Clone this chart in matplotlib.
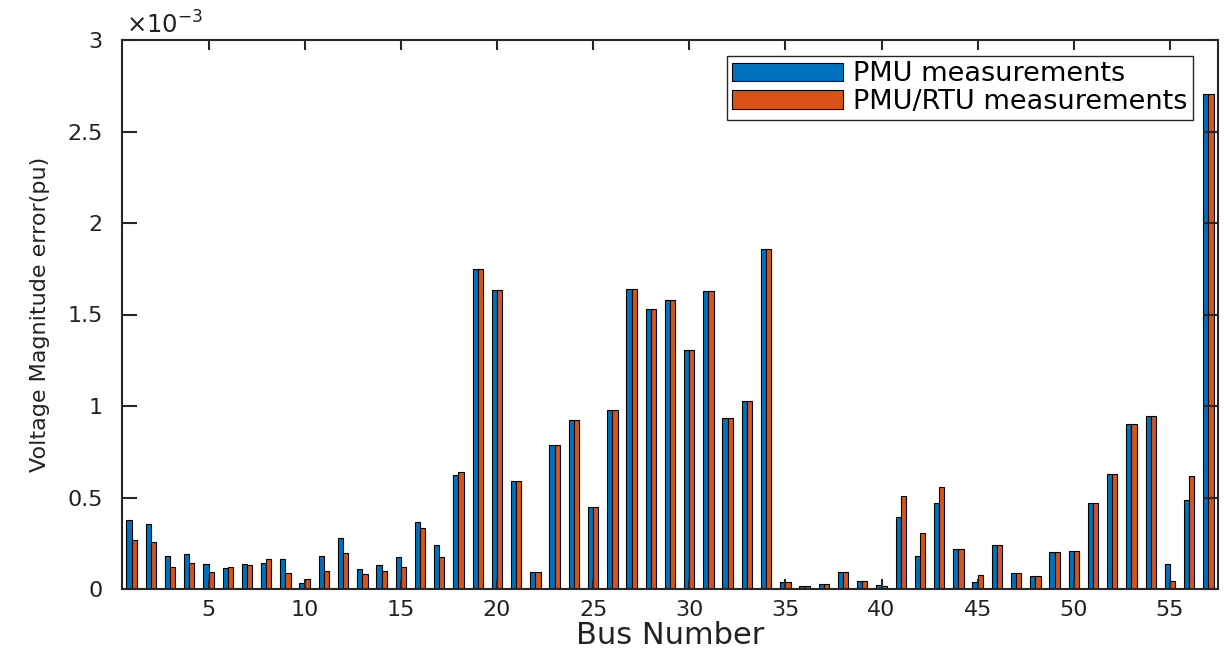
import numpy as np
import matplotlib
matplotlib.use("Agg")
import matplotlib.pyplot as plt
from matplotlib.ticker import FuncFormatter

# Data (values in units of 1e-3 pu)
buses = list(range(1, 58))
pmu = [0.375, 0.355, 0.180, 0.193, 0.135, 0.117, 0.135, 0.142, 0.164, 0.035,
       0.180, 0.278, 0.111, 0.133, 0.175, 0.368, 0.238, 0.624, 1.748, 1.635,
       0.589, 0.091, 0.788, 0.926, 0.446, 0.980, 1.639, 1.531, 1.577, 1.308,
       1.631, 0.933, 1.028, 1.860, 0.040, 0.015, 0.029, 0.091, 0.044, 0.020,
       0.393, 0.182, 0.468, 0.220, 0.036, 0.242, 0.086, 0.073, 0.200, 0.206,
       0.469, 0.627, 0.902, 0.944, 0.135, 0.484, 2.704]
pmu_rtu = [0.270, 0.259, 0.118, 0.142, 0.093, 0.122, 0.133, 0.166, 0.089, 0.057,
           0.098, 0.196, 0.080, 0.097, 0.122, 0.331, 0.175, 0.642, 1.748, 1.635,
           0.589, 0.091, 0.788, 0.926, 0.446, 0.980, 1.639, 1.531, 1.577, 1.308,
           1.631, 0.933, 1.028, 1.860, 0.040, 0.015, 0.029, 0.091, 0.044, 0.018,
           0.507, 0.308, 0.560, 0.220, 0.076, 0.242, 0.086, 0.073, 0.200, 0.206,
           0.469, 0.627, 0.902, 0.944, 0.046, 0.615, 2.704]
series_labels = ["PMU measurements", "PMU/RTU measurements"]
xticks = [5, 10, 15, 20, 25, 30, 35, 40, 45, 50, 55]
yticks = [0, 0.5, 1, 1.5, 2, 2.5, 3]

blue = "#0072BD"
orange = "#D95319"
axc = "#262626"

fig = plt.figure(figsize=(12.24, 6.52), dpi=100)
ax = fig.add_axes([122/1224, 63/652, 1096/1224, 549/652])

x = np.array(buses)
w = 0.27
ax.bar(x - w/2, pmu, width=w, color=blue, edgecolor="black", linewidth=0.8,
       label=series_labels[0])
ax.bar(x + w/2, pmu_rtu, width=w, color=orange, edgecolor="black", linewidth=0.8,
       label=series_labels[1])

ax.set_xlim(0.5, 57.5)
ax.set_ylim(0, 3)
ax.set_xticks(xticks)
ax.set_yticks(yticks)
ax.yaxis.set_major_formatter(FuncFormatter(lambda v, p: "%g" % v))

for s in ax.spines.values():
    s.set_linewidth(1.5)
    s.set_color(axc)

ax.tick_params(axis="both", direction="in", top=True, right=True,
               colors=axc, labelcolor="#222222", width=1.5, labelsize=16)
ax.tick_params(axis="x", length=7, pad=8)
ax.tick_params(axis="y", length=11, pad=14)

ax.set_xlabel("Bus Number", fontsize=22, color="#222222", labelpad=1)
ax.set_ylabel("Voltage Magnitude error(pu)", fontsize=16, color="#222222", labelpad=12)

ax.text(0.004, 1.003, r"$\times\mathregular{10^{-3}}$", transform=ax.transAxes,
        fontsize=17.5, color="#222222", ha="left", va="bottom")

leg = ax.legend(loc="upper right", bbox_to_anchor=(0.977, 0.971), fontsize=19.5,
                fancybox=False, framealpha=1, edgecolor=axc, borderpad=0.25,
                labelspacing=0.05, handlelength=4.1, handleheight=0.7,
                handletextpad=0.35, borderaxespad=0)
leg.get_frame().set_linewidth(1.0)
leg._legend_box.pad = 4

fig.savefig("out.png", dpi=100)
